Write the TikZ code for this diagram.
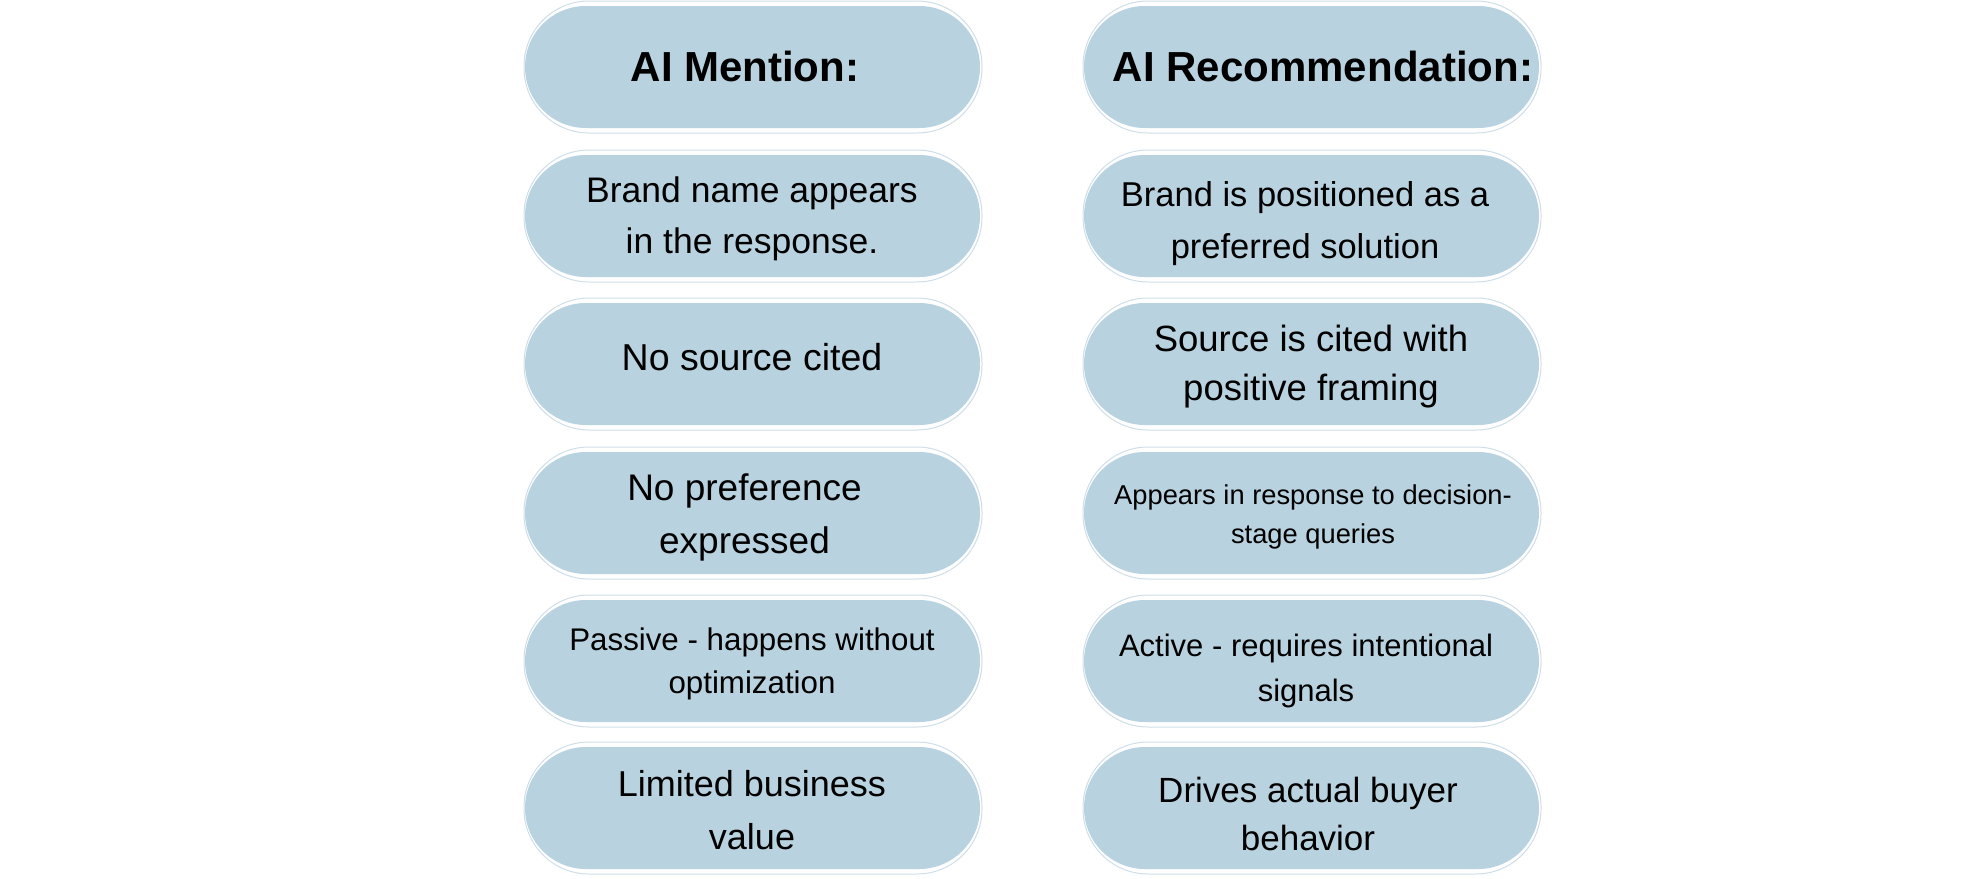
\documentclass[tikz,border=0pt]{standalone}
\usepackage{fontspec}
\setmainfont{Liberation Sans}
\definecolor{pillfill}{RGB}{185,210,223}
\definecolor{pillline}{RGB}{208,222,231}
\newcommand\pilltext[3]{\fontsize{#1}{#2}\selectfont\setlength\tabcolsep{0pt}\begin{tabular}[t]{c}#3\end{tabular}}
\begin{document}
\begin{tikzpicture}[x=1pt,y=-1pt,
  pill/.style={draw=none, fill=pillfill, rounded corners=60.9pt, minimum width=455pt, minimum height=122pt, inner sep=0pt},
  halo/.style={draw=pillline, line width=1pt, fill=white, rounded corners=65pt, minimum width=458pt, minimum height=132pt, inner sep=0pt},
  txt/.style={anchor=base, inner sep=0pt, text=black}]
\useasboundingbox (0,0) rectangle (1985,878);
\fill[white] (0,0) rectangle (1985,878);
\foreach \i/\y in {0/67,1/216,2/364,3/513,4/661,5/808}{
  \node[halo] (mo\i) at (753,\y) {};
  \node[pill] (m\i) at (752.5,\y) {};
  \node[halo] (ro\i) at (1312,\y) {};
  \node[pill] (r\i) at (1311.5,\y) {};
}
% left column
\node[txt] (tm0) at (745,81.7) {\pilltext{42}{50}{\bfseries AI Mention:}};
\node[txt] (tm1) at (752,202.7) {\pilltext{35.5}{50.6}{Brand name appears\\in the response.}};
\node[txt] (tm2) at (752,370) {\pilltext{37.5}{50}{No source cited}};
\node[txt] (tm3) at (744.5,500.7) {\pilltext{37}{52.6}{No preference\\expressed}};
\node[txt] (tm4) at (752,650) {\pilltext{31.3}{43.3}{Passive - happens without\\optimization}};
\node[txt] (tm5) at (752,796) {\pilltext{36}{53.3}{Limited business\\value}};
% right column
\node[txt] (tr0) at (1323,81.7) {\pilltext{42}{50}{\bfseries AI Recommendation:}};
\node[txt] (tr1) at (1305,206.7) {\pilltext{34.5}{51.6}{Brand is positioned as a\\preferred solution}};
\node[txt] (tr2) at (1311,351) {\pilltext{36.5}{49}{Source is cited with\\positive framing}};
\node[txt] (tr3) at (1313,504.3) {\pilltext{27.3}{39}{Appears in response to decision-\\stage queries}};
\node[txt] (tr4) at (1306,656.7) {\pilltext{31}{45}{Active - requires intentional\\signals}};
\node[txt] (tr5) at (1308,802.7) {\pilltext{35}{47.3}{Drives actual buyer\\behavior}};
\end{tikzpicture}
\end{document}
